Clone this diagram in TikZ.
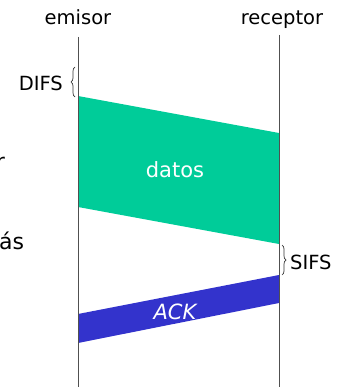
\documentclass[tikz,border=0pt]{standalone}
\usepackage{fontspec}
\setmainfont{DejaVu Sans}
\usetikzlibrary{decorations.pathreplacing}
\definecolor{datagreen}{RGB}{0,204,153}
\definecolor{ackblue}{RGB}{51,51,204}
\definecolor{linegray}{RGB}{80,80,80}
\begin{document}
\begin{tikzpicture}[x=1pt,y=-1pt,
  lbl/.style={font=\fontsize{19.5}{22}\selectfont, inner sep=0pt},
  wlbl/.style={font=\fontsize{21}{24}\selectfont, text=white, inner sep=0pt},
  timeline/.style={draw=linegray, line width=0.9pt},
  bracestyle/.style={draw=black!80, line width=0.7pt, decorate, decoration={brace, amplitude=4pt}}]
\useasboundingbox (0,0) rectangle (338,387);
\clip (0,0) rectangle (338,387);
% time lines
\coordinate (et) at (78,37);
\coordinate (eb) at (78,387);
\coordinate (rt) at (279,35);
\coordinate (rb) at (279,387);
% data frame
\coordinate (d1) at (78,96);
\coordinate (d2) at (279,133);
\coordinate (d3) at (279,244);
\coordinate (d4) at (78,207);
\fill[datagreen] (d1) -- (d2) -- (d3) -- (d4) -- cycle;
% ack frame
\coordinate (a1) at (78,314);
\coordinate (a2) at (279,275);
\coordinate (a3) at (279,303);
\coordinate (a4) at (78,343);
\fill[ackblue] (a1) -- (a2) -- (a3) -- (a4) -- cycle;
\draw[timeline] (et) -- (eb);
\draw[timeline] (rt) -- (rb);
% labels
\node[lbl, anchor=base] (em) at (78,25) {emisor};
\node[lbl, anchor=base] (re) at (282,25) {receptor};
\node[wlbl, anchor=base] (dat) at (175,178) {datos};
\node[wlbl, anchor=base, font=\fontsize{21}{24}\selectfont\itshape] (ack) at (175,319) {ACK};
% braces
\coordinate (db1) at (75,97);
\coordinate (db2) at (75,67);
\draw[bracestyle] (db1) -- (db2);
\node[lbl, anchor=east] (difs) at (63,83) {DIFS};
\coordinate (sb1) at (282,245);
\coordinate (sb2) at (282,275);
\draw[bracestyle] (sb1) -- (sb2);
\node[lbl, anchor=west] (sifs) at (290,262) {SIFS};
% cut-off text fragments at the left edge
\node[font=\fontsize{22}{26}\selectfont, inner sep=0pt, anchor=base east] (fr1) at (5,170) {r};
\node[font=\fontsize{22}{26}\selectfont, inner sep=0pt, anchor=base west] (fr2) at (-1,249) {ás};
\end{tikzpicture}
\end{document}
